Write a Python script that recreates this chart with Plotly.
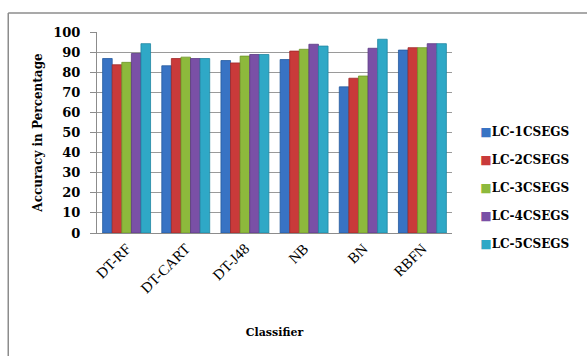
import plotly.graph_objects as go

classifiers = ["DT-RF", "DT-CART", "DT-J48", "NB", "BN", "RBFN"]
series_names = ["LC-1CSEGS", "LC-2CSEGS", "LC-3CSEGS", "LC-4CSEGS", "LC-5CSEGS"]
lc1 = [86.8, 83.2, 85.8, 86.3, 72.7, 91.0]
lc2 = [83.7, 86.8, 84.6, 90.5, 77.0, 92.2]
lc3 = [84.9, 87.5, 88.0, 91.4, 78.1, 92.2]
lc4 = [89.3, 86.8, 88.8, 93.9, 91.9, 94.2]
lc5 = [94.2, 86.8, 88.8, 93.0, 96.4, 94.2]
y_ticks = [0, 10, 20, 30, 40, 50, 60, 70, 80, 90, 100]

series_values = [lc1, lc2, lc3, lc4, lc5]
colors = ["#3873C4", "#C93A3A", "#8DB93C", "#7A50A6", "#2FA8C6"]
edges = ["#255A9E", "#9E2A2A", "#6E9428", "#5C3A84", "#1F87A2"]

SERIF = "Liberation Serif, Times New Roman, serif"
HEAVY = "DejaVu Serif, serif"

fig = go.Figure()
for name, vals, c, e in zip(series_names, series_values, colors, edges):
    fig.add_trace(go.Bar(
        x=classifiers, y=vals, name=name, legendgroup=name, showlegend=False,
        marker=dict(color=c, line=dict(color=e, width=0.8)),
    ))
# legend entries: a small coloured square drawn right before each name
for name, c in zip(series_names, colors):
    fig.add_trace(go.Scatter(
        x=[None], y=[None], mode="markers", legendgroup=name,
        name=f'<span style="color:{c}">■</span>{name}',
        marker=dict(symbol="square", size=1, color="rgba(0,0,0,0)",
                    line=dict(width=0, color="rgba(0,0,0,0)")),
    ))

fig.update_layout(
    width=587, height=356,
    margin=dict(l=97, r=135, t=32, b=123),
    paper_bgcolor="white", plot_bgcolor="white",
    barmode="group", bargap=0.19, bargroupgap=0,
    font=dict(family=SERIF, color="black"),
    showlegend=True,
    legend=dict(
        x=0.967, y=0.226, xanchor="left", yanchor="middle",
        bgcolor="rgba(0,0,0,0)",
        font=dict(family=HEAVY, size=12, color="black", weight="bold"),
        traceorder="grouped", tracegroupgap=9,
        itemwidth=30,
    ),
    xaxis=dict(
        tickangle=-45, tickfont=dict(family=SERIF, size=15, color="black"),
        showline=True, linecolor="#8C8C8C", linewidth=1,
        ticks="", showgrid=False,
        title=dict(text="Classifier", font=dict(family=HEAVY, size=11, color="black", weight="bold"),
                   standoff=33),
    ),
    yaxis=dict(
        range=[0, 100], tickvals=y_ticks,
        tickfont=dict(family=HEAVY, size=13, color="black", weight="bold"),
        showline=True, linecolor="#8C8C8C", linewidth=1,
        ticks="outside", ticklen=6, tickcolor="#8C8C8C",
        ticklabelstandoff=7,
        showgrid=True, gridcolor="#9A9A9A", gridwidth=1,
        zeroline=False,
        title=dict(text="Accuracy in Percentage",
                   font=dict(family=HEAVY, size=12, color="black", weight="bold"),
                   standoff=8),
    ),
)

# chart frame (left and top edges)
fig.add_shape(type="line", xref="paper", yref="paper",
              x0=-0.25, x1=-0.25, y0=-0.62, y1=1.095,
              line=dict(color="#8C8C8C", width=1.5))
fig.add_shape(type="line", xref="paper", yref="paper",
              x0=-0.25, x1=1.4, y0=1.095, y1=1.095,
              line=dict(color="#8C8C8C", width=1.5))

fig.write_html("out.html")
